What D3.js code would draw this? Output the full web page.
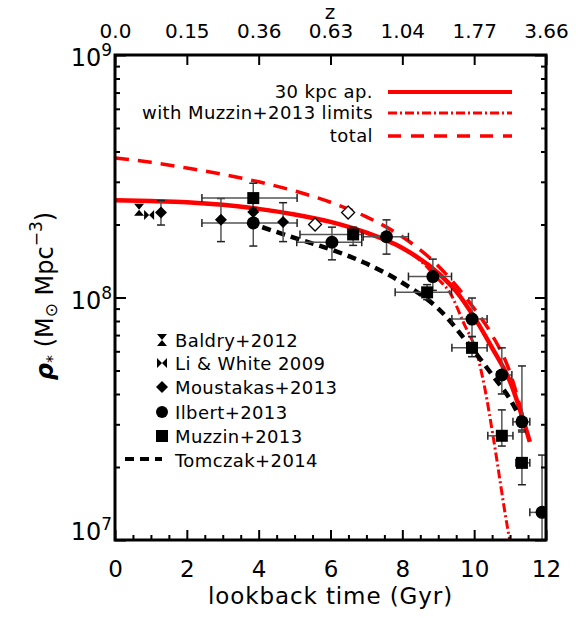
<!DOCTYPE html>
<html>
<head>
<meta charset="utf-8">
<script src="https://cdn.jsdelivr.net/npm/d3@7"></script>
<style>
  body { margin: 0; background: #fff; }
  text { font-family: "DejaVu Sans", sans-serif; fill: #000; }
</style>
</head>
<body>
<div id="chart"></div>
<script>
// ---- data ----
// model curves (lookback time in Gyr, stellar mass density in Msun/Mpc^3)
const time30 = [0, 1, 2, 3, 4, 5, 6, 7, 8, 9, 9.5, 10, 10.5, 11, 11.55];
const rho30 = [2.52e8, 2.50e8, 2.47e8, 2.41e8, 2.32e8, 2.20e8, 2.05e8, 1.85e8, 1.60e8, 1.26e8, 1.06e8, 8.3e7, 6.2e7, 4.5e7, 2.54e7];

const timeLim = [0, 1, 2, 3, 4, 5, 6, 7, 8, 8.5, 9, 9.33, 9.7, 10.1, 10.3, 10.53, 10.94, 11.02];
const rhoLim = [2.52e8, 2.50e8, 2.47e8, 2.41e8, 2.32e8, 2.20e8, 2.05e8, 1.85e8, 1.60e8, 1.42e8, 1.19e8, 1.045e8, 7.9e7, 5.7e7, 4.2e7, 2.66e7, 1.1e7, 9.5e6];

const timeTot = [0, 1, 2, 3, 4, 5, 6, 7, 8, 9, 9.5, 10, 10.5, 11, 11.36];
const rhoTot = [3.76e8, 3.61e8, 3.42e8, 3.22e8, 3.0e8, 2.75e8, 2.47e8, 2.15e8, 1.78e8, 1.35e8, 1.12e8, 9.0e7, 7.0e7, 4.9e7, 3.2e7];

const timeTom = [4.1, 5, 6, 7, 8, 9, 10, 10.5, 11, 11.28];
const rhoTom = [1.95e8, 1.76e8, 1.58e8, 1.38e8, 1.15e8, 9.0e7, 6.0e7, 4.8e7, 3.8e7, 3.2e7];

// observations
const baldryT = [0.67], baldryRho = [2.3e8];
const liT = [0.95], liRho = [2.19e8];

const moustT = [1.28, 2.95, 3.85, 4.68];
const moustRho = [2.24e8, 2.09e8, 2.25e8, 2.05e8];
const moustLo = [1.99e8, 1.70e8, 2.0e8, 1.70e8];
const moustHi = [2.51e8, 2.56e8, 2.5e8, 2.46e8];

const moustOpenT = [5.57, 6.49];
const moustOpenRho = [2.0e8, 2.24e8];

const ilbertT = [3.85, 6.04, 7.56, 8.85, 9.94, 10.77, 11.33, 11.89];
const ilbertRho = [2.03e8, 1.69e8, 1.78e8, 1.22e8, 8.15e7, 4.79e7, 3.07e7, 1.3e7];
const ilbertLo = [1.63e8, 1.43e8, 1.51e8, 1.07e8, 6.9e7, 4.0e7, 2.84e7, 8e6];
const ilbertHi = [2.51e8, 1.95e8, 2.09e8, 1.44e8, 9.95e7, 6.2e7, 5.22e7, 2.24e7];
const ilbertTLo = [2.42, 5.06, 6.91, 8.17, 9.38, 10.63, 11.08, 11.55];
const ilbertTHi = [5.07, 6.87, 8.17, 9.37, 10.36, 11.05, 11.55, 12.3];

const muzzinT = [3.85, 6.63, 8.69, 9.94, 10.77, 11.33];
const muzzinRho = [2.57e8, 1.82e8, 1.05e8, 6.2e7, 2.69e7, 2.08e7];
const muzzinLo = [2.34e8, 1.64e8, 9.8e7, 5.7e7, 2.44e7, 1.69e7];
const muzzinHi = [2.96e8, 1.95e8, 1.13e8, 6.9e7, 3.44e7, 2.79e7];
const muzzinTLo = [2.42, 5.15, 7.8, 9.38, 10.38, 11.16];
const muzzinTHi = [5.07, 6.87, 9.37, 10.36, 11.08, 11.55];

// axes
const xMajor = [0, 2, 4, 6, 8, 10, 12];
const zLabels = ["0.0", "0.15", "0.36", "0.63", "1.04", "1.77", "3.66"];
const yMajor = [1e7, 1e8, 1e9];
const yExp = ["7", "8", "9"];

const modelNames = ["30 kpc ap.", "with Muzzin+2013 limits", "total"];
const obsNames = ["Baldry+2012", "Li & White 2009", "Moustakas+2013", "Ilbert+2013", "Muzzin+2013", "Tomczak+2014"];

// ---- layout ----
const W = 587, H = 618;
const plot = { left: 115, right: 546, top: 55, bottom: 540 };

const svg = d3.select("#chart").append("svg")
    .attr("width", W)
    .attr("height", H);

const x = d3.scaleLinear().domain([0, 12]).range([plot.left, plot.right]);
const y = d3.scaleLog().domain([1e7, 1e9]).range([plot.bottom, plot.top]);

svg.append("clipPath").attr("id", "clip")
    .append("rect")
    .attr("x", plot.left).attr("y", plot.top)
    .attr("width", plot.right - plot.left)
    .attr("height", plot.bottom - plot.top);

const gData = svg.append("g").attr("clip-path", "url(#clip)");

const zip = (ts, rs) => ts.map((t, i) => [t, rs[i]]);
const line = d3.line()
    .x(d => x(d[0]))
    .y(d => y(d[1]))
    .curve(d3.curveMonotoneX);

// model curves
gData.append("path")
    .attr("d", line(zip(timeTot, rhoTot)))
    .attr("fill", "none").attr("stroke", "#ff0000")
    .attr("stroke-width", 3.5).attr("stroke-dasharray", "14,9");

gData.append("path")
    .attr("d", line(zip(time30, rho30)))
    .attr("fill", "none").attr("stroke", "#ff0000")
    .attr("stroke-width", 4.5);

gData.append("path")
    .attr("d", line(zip(timeLim, rhoLim)))
    .attr("fill", "none").attr("stroke", "#ff0000")
    .attr("stroke-width", 3).attr("stroke-dasharray", "9,3,2,3");

gData.append("path")
    .attr("d", line(zip(timeTom, rhoTom)))
    .attr("fill", "none").attr("stroke", "#000")
    .attr("stroke-width", 4.5).attr("stroke-dasharray", "9,6");

// error bars
const errColor = "#555";
function yErr(ts, rs, lo, hi) {
    ts.forEach((t, i) => {
        const cx = x(t);
        gData.append("line")
            .attr("x1", cx).attr("x2", cx)
            .attr("y1", y(lo[i])).attr("y2", y(hi[i]))
            .attr("stroke", errColor).attr("stroke-width", 1.5);
        [lo[i], hi[i]].forEach(v => {
            gData.append("line")
                .attr("x1", cx - 4).attr("x2", cx + 4)
                .attr("y1", y(v)).attr("y2", y(v))
                .attr("stroke", "#222").attr("stroke-width", 1.5);
        });
    });
}
function xErr(ts, rs, lo, hi) {
    ts.forEach((t, i) => {
        const cy = y(rs[i]);
        gData.append("line")
            .attr("x1", x(lo[i])).attr("x2", x(hi[i]))
            .attr("y1", cy).attr("y2", cy)
            .attr("stroke", errColor).attr("stroke-width", 1.5);
        [lo[i], hi[i]].forEach(v => {
            gData.append("line")
                .attr("x1", x(v)).attr("x2", x(v))
                .attr("y1", cy - 4).attr("y2", cy + 4)
                .attr("stroke", "#222").attr("stroke-width", 1.5);
        });
    });
}
yErr(moustT, moustRho, moustLo, moustHi);
yErr(ilbertT, ilbertRho, ilbertLo, ilbertHi);
xErr(ilbertT, ilbertRho, ilbertTLo, ilbertTHi);
yErr(muzzinT, muzzinRho, muzzinLo, muzzinHi);
xErr(muzzinT, muzzinRho, muzzinTLo, muzzinTHi);

// symbol shapes
const hourglass = (w, h) => `M${-w},${-h}L${w},${-h}L${-w},${h}L${w},${h}Z`;
const bowtie = (w, h) => `M${-w},${-h}L${-w},${h}L${w},${-h}L${w},${h}Z`;
const diamond = s => `M0,${-s}L${s},0L0,${s}L${-s},0Z`;

function points(ts, rs, draw) {
    ts.forEach((t, i) => draw(gData.append("g")
        .attr("transform", `translate(${x(t)},${y(rs[i])})`)));
}
points(baldryT, baldryRho, g => g.append("path").attr("d", hourglass(5, 6)).attr("fill", "#000"));
points(liT, liRho, g => g.append("path").attr("d", bowtie(5, 5)).attr("fill", "#000"));
points(moustT, moustRho, g => g.append("path").attr("d", diamond(6)).attr("fill", "#000"));
points(moustOpenT, moustOpenRho, g => g.append("path").attr("d", diamond(6.5))
    .attr("fill", "#fff").attr("stroke", "#000").attr("stroke-width", 1.3));
points(ilbertT, ilbertRho, g => g.append("circle").attr("r", 6.5).attr("fill", "#000"));
points(muzzinT, muzzinRho, g => g.append("rect")
    .attr("x", -6).attr("y", -6).attr("width", 12).attr("height", 12).attr("fill", "#000"));

// ---- axes ----
const yMinor = [];
[1e7, 1e8].forEach(d => { for (let k = 2; k <= 9; k++) yMinor.push(d * k); });
const xMinor = d3.range(0, 12.01, 0.5).filter(v => v % 2 !== 0);

function styleAxis(g) {
    g.select(".domain").remove();
    g.selectAll(".tick line").attr("stroke", "#000").attr("stroke-width", 2);
}

// bottom
svg.append("g").attr("transform", `translate(0,${plot.bottom})`)
    .call(d3.axisBottom(x).tickValues(xMajor).tickSize(-10).tickFormat(d3.format("d")))
    .call(styleAxis)
    .call(g => g.selectAll(".tick text")
        .attr("y", 37).attr("dy", null)
        .attr("font-size", 23).attr("font-family", "DejaVu Sans"));
svg.append("g").attr("transform", `translate(0,${plot.bottom})`)
    .call(d3.axisBottom(x).tickValues(xMinor).tickSize(-5).tickFormat(""))
    .call(styleAxis);

// top (redshift labels at lookback-time positions)
svg.append("g").attr("transform", `translate(0,${plot.top})`)
    .call(d3.axisTop(x).tickValues(xMajor).tickSize(-10).tickFormat((d, i) => zLabels[i]))
    .call(styleAxis)
    .call(g => g.selectAll(".tick text")
        .attr("y", -17).attr("dy", null)
        .attr("font-size", 20).attr("font-family", "DejaVu Sans"));

// left
svg.append("g").attr("transform", `translate(${plot.left},0)`)
    .call(d3.axisLeft(y).tickValues(yMajor).tickSize(-11).tickFormat(""))
    .call(styleAxis);
svg.append("g").attr("transform", `translate(${plot.left},0)`)
    .call(d3.axisLeft(y).tickValues(yMinor).tickSize(-5).tickFormat(""))
    .call(styleAxis);
// right
svg.append("g").attr("transform", `translate(${plot.right},0)`)
    .call(d3.axisRight(y).tickValues(yMajor).tickSize(-11).tickFormat(""))
    .call(styleAxis);
svg.append("g").attr("transform", `translate(${plot.right},0)`)
    .call(d3.axisRight(y).tickValues(yMinor).tickSize(-5).tickFormat(""))
    .call(styleAxis);

// y tick labels 10^n
yMajor.forEach((v, i) => {
    const t = svg.append("text")
        .attr("x", plot.left - 3)
        .attr("y", y(v) + (i === 0 ? 0 : 11))
        .attr("text-anchor", "end")
        .attr("font-size", 24);
    t.append("tspan").text("10");
    t.append("tspan").attr("font-size", 17).attr("dy", -10).text(yExp[i]);
});

// frame
svg.append("rect")
    .attr("x", plot.left).attr("y", plot.top)
    .attr("width", plot.right - plot.left)
    .attr("height", plot.bottom - plot.top)
    .attr("fill", "none").attr("stroke", "#000").attr("stroke-width", 3);

// axis titles
svg.append("text")
    .attr("x", (plot.left + plot.right) / 2).attr("y", 604)
    .attr("text-anchor", "middle").attr("font-size", 23)
    .attr("letter-spacing", 0.9)
    .text("lookback time (Gyr)");

svg.append("text")
    .attr("x", 330).attr("y", 19)
    .attr("text-anchor", "middle").attr("font-size", 20)
    .text("z");

const yt = svg.append("text")
    .attr("transform", "translate(53,296) rotate(-90)")
    .attr("text-anchor", "middle")
    .attr("font-size", 24);
yt.append("tspan").attr("font-style", "italic").attr("font-weight", "bold").text("ρ");
yt.append("tspan").attr("font-size", 16).attr("dy", 5).text("*");
yt.append("tspan").attr("dy", -5).text(" (M");
yt.append("tspan").attr("font-size", 17).attr("dy", 4).text("⊙");
yt.append("tspan").attr("dy", -4).text(" Mpc");
yt.append("tspan").attr("font-size", 17).attr("dy", -11).text("−3");
yt.append("tspan").attr("dy", 11).text(")");

// ---- legends ----
const topLeg = svg.append("g");
const topRows = [92, 113, 136];
const topStyles = [
    { w: 4, dash: null },
    { w: 3, dash: "9,3,2,3" },
    { w: 3.5, dash: "13,10" }
];
modelNames.forEach((name, i) => {
    topLeg.append("line")
        .attr("x1", 388).attr("x2", 512)
        .attr("y1", topRows[i]).attr("y2", topRows[i])
        .attr("stroke", "#ff0000")
        .attr("stroke-width", topStyles[i].w)
        .attr("stroke-dasharray", topStyles[i].dash);
    topLeg.append("text")
        .attr("x", 373).attr("y", topRows[i] + 6)
        .attr("text-anchor", "end").attr("font-size", 18)
        .attr("letter-spacing", 0.4)
        .text(name);
});

const botLeg = svg.append("g");
const rowY = [340, 363, 387, 412, 436, 460];
const symX = 162;
const legSyms = [
    g => g.append("path").attr("d", hourglass(5, 6)),
    g => g.append("path").attr("d", bowtie(5, 5)),
    g => g.append("path").attr("d", diamond(6)),
    g => g.append("circle").attr("r", 6),
    g => g.append("rect").attr("x", -6).attr("y", -6).attr("width", 12).attr("height", 12),
    g => g.append("line").attr("x1", -37).attr("x2", 0).attr("y1", -1).attr("y2", -1)
        .attr("stroke", "#000").attr("stroke-width", 4).attr("stroke-dasharray", "9,6")
];
obsNames.forEach((name, i) => {
    legSyms[i](botLeg.append("g")
        .attr("transform", `translate(${symX},${rowY[i]})`)
        .attr("fill", "#000"));
    botLeg.append("text")
        .attr("x", 175).attr("y", rowY[i] + 7)
        .attr("font-size", 18).attr("letter-spacing", 0.4)
        .text(name);
});
</script>
</body>
</html>
